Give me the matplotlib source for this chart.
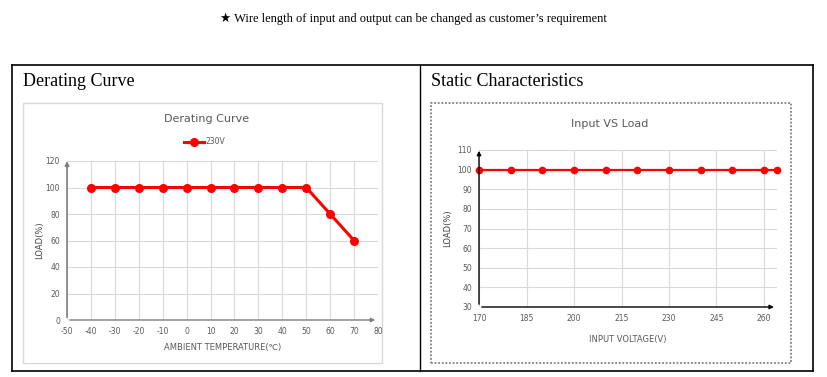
import matplotlib
matplotlib.use("Agg")
import matplotlib.pyplot as plt
from matplotlib.patches import Rectangle
from matplotlib.lines import Line2D

plt.rcParams['axes.unicode_minus'] = False

# ---- data ----
temp_c = [-40, -30, -20, -10, 0, 10, 20, 30, 40, 50, 60, 70]
load_pct = [100, 100, 100, 100, 100, 100, 100, 100, 100, 100, 80, 60]
temp_ticks = [-50, -40, -30, -20, -10, 0, 10, 20, 30, 40, 50, 60, 70, 80]
load_ticks = [0, 20, 40, 60, 80, 100, 120]

volt_v = [170, 180, 190, 200, 210, 220, 230, 240, 250, 260, 264]
volt_load = [100, 100, 100, 100, 100, 100, 100, 100, 100, 100, 100]
volt_ticks = [170, 185, 200, 215, 230, 245, 260]
vload_ticks = [30, 40, 50, 60, 70, 80, 90, 100, 110]

W, H = 827, 377
fig = plt.figure(figsize=(W / 100, H / 100), dpi=100)

def fx(x):
    return x / W

def fy(y):
    return 1 - y / H

SANS = ['Liberation Sans Narrow', 'DejaVu Sans']
SERIF = ['Liberation Serif', 'DejaVu Serif']
TICKC = '#595959'
GRID = '#d9d9d9'
RED = '#ff0000'

# ---- page text and table ----
fig.text(fx(413), fy(19), "\u2605 Wire length of input and output can be changed as customer\u2019s requirement",
         ha='center', va='center', fontsize=9, family=['Liberation Serif', 'DejaVu Sans'])

def fline(x0, y0, x1, y1, **kw):
    fig.add_artist(Line2D([fx(x0), fx(x1)], [fy(y0), fy(y1)], transform=fig.transFigure, **kw))

fline(12, 65, 813, 65, color='black', lw=1.2)
fline(12, 371, 813, 371, color='black', lw=1.2)
fline(12, 65, 12, 371, color='black', lw=1.2)
fline(813, 65, 813, 371, color='black', lw=1.2)
fline(420, 65, 420, 371, color='black', lw=1.0)

fig.text(fx(23), fy(82), "Derating Curve", ha='left', va='center', fontsize=13, family=SERIF)
fig.text(fx(431), fy(82), "Static Characteristics", ha='left', va='center', fontsize=13, family=SERIF)

# chart frames
fig.add_artist(Rectangle((fx(23), fy(363)), fx(382 - 23), (363 - 103) / H, transform=fig.transFigure,
                         fill=False, edgecolor='#d9d9d9', lw=1.0, zorder=0))
fig.add_artist(Rectangle((fx(431), fy(363)), fx(791 - 431), (363 - 103) / H, transform=fig.transFigure,
                         fill=False, edgecolor='#7f7f7f', lw=1.3, linestyle=(0, (1, 1))))

# ---- left chart ----
ax1 = fig.add_axes([fx(67), fy(320), fx(378 - 67), (320 - 161) / H])
ax1.patch.set_alpha(0)
ax1.plot(temp_c, load_pct, color=RED, lw=2.2, marker='o', ms=5.5, zorder=3, clip_on=False)
ax1.set_xlim(-50, 80)
ax1.set_ylim(0, 120)
ax1.set_xticks(temp_ticks)
ax1.set_yticks(load_ticks)
ax1.grid(True, color=GRID, lw=0.8)
ax1.set_axisbelow(True)
for s in ax1.spines.values():
    s.set_visible(False)
ax1.tick_params(length=0, labelsize=5.5, labelcolor=TICKC, pad=5)
for lab in ax1.get_xticklabels() + ax1.get_yticklabels():
    lab.set_family(SANS)
ax1.annotate('', xy=(-50, 122), xytext=(-50, 0), xycoords='data',
             arrowprops=dict(arrowstyle='-|>', color='#7f7f7f', lw=1.2, mutation_scale=6), annotation_clip=False)
ax1.annotate('', xy=(80, 0), xytext=(-50, 0), xycoords='data',
             arrowprops=dict(arrowstyle='-|>', color='#7f7f7f', lw=1.0, mutation_scale=6), annotation_clip=False)
ax1.set_xlabel("AMBIENT TEMPERATURE(\u2103)", fontsize=6, color=TICKC, family=SANS, labelpad=5)
ax1.set_ylabel("LOAD(%)", fontsize=6, color='#404040', family=SANS, labelpad=1)
fig.text(fx(207), fy(119), "Derating Curve", ha='center', va='center', fontsize=8, color='#595959', family=SANS)
leg = ax1.legend(['230V'], loc='center', bbox_to_anchor=(fx(205), fy(142)), bbox_transform=fig.transFigure,
                 frameon=False, fontsize=5.5, handlelength=2.5, handletextpad=0.3, markerscale=1.0)
for t in leg.get_texts():
    t.set_color(TICKC)
    t.set_family(SANS)

# ---- right chart ----
ax2 = fig.add_axes([fx(479), fy(307), (94 * 285 / 90) / W, (307 - 150) / H])
ax2.plot(volt_v, volt_load, color=RED, lw=1.6, marker='o', ms=4.5, zorder=3, clip_on=False)
ax2.set_xlim(170, 264)
ax2.set_ylim(30, 110)
ax2.set_xticks(volt_ticks)
ax2.set_yticks(vload_ticks)
ax2.grid(True, color=GRID, lw=0.8)
ax2.set_axisbelow(True)
for s in ax2.spines.values():
    s.set_visible(False)
ax2.tick_params(length=0, labelsize=5.5, labelcolor=TICKC, pad=5)
for lab in ax2.get_xticklabels() + ax2.get_yticklabels():
    lab.set_family(SANS)
ax2.annotate('', xy=(170, 111), xytext=(170, 30), xycoords='data',
             arrowprops=dict(arrowstyle='-|>', color='black', lw=1.0, mutation_scale=6), annotation_clip=False)
ax2.annotate('', xy=(264, 30), xytext=(170, 30), xycoords='data',
             arrowprops=dict(arrowstyle='-|>', color='black', lw=1.0, mutation_scale=6), annotation_clip=False)
ax2.set_xlabel("INPUT VOLTAGE(V)", fontsize=6, color=TICKC, family=SANS, labelpad=9)
ax2.set_ylabel("LOAD(%)", fontsize=6, color='#404040', family=SANS, labelpad=4)
fig.text(fx(610), fy(124), "Input VS Load", ha='center', va='center', fontsize=8, color='#595959', family=SANS)

fig.savefig("out.png", dpi=100)
